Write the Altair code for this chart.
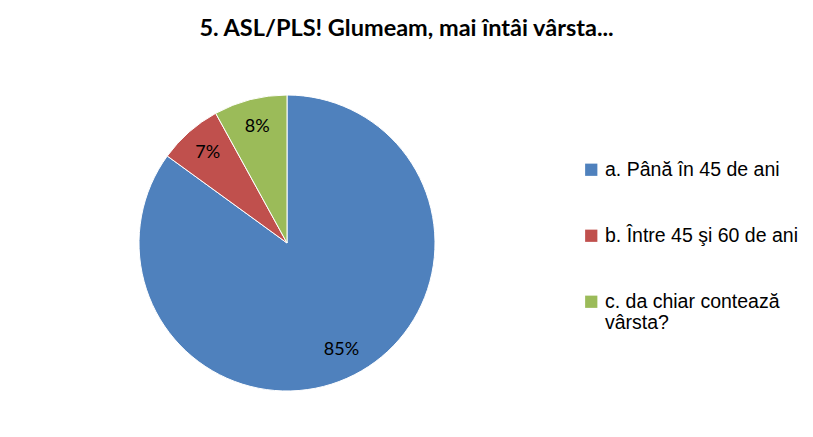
import json
import altair as alt
import pandas as pd

categories = ["a. Până în 45 de ani", "b. Între 45 şi 60 de ani", "c. da chiar contează vârsta?"]
values = [85, 7, 8]
colors = ["#4F81BD", "#C0504D", "#9BBB59"]
# how the long legend label is wrapped over two lines
wrapped = {"c. da chiar contează vârsta?": ["c. da chiar contează", "vârsta?"]}
title_text = "5. ASL/PLS! Glumeam, mai întâi vârsta..."

df = pd.DataFrame({
    "category": categories,
    "value": values,
    "idx": list(range(len(categories))),
})
df["label"] = df["value"].astype(str) + "%"

label_expr = "datum.label"
for k, v in wrapped.items():
    label_expr = f"datum.label == {json.dumps(k, ensure_ascii=False)} ? {json.dumps(v, ensure_ascii=False)} : ({label_expr})"

base = alt.Chart(df).encode(
    theta=alt.Theta("value:Q", stack=True),
    order=alt.Order("idx:Q", sort="ascending"),
    x=alt.value(279),
    y=alt.value(190),
)

pie = base.mark_arc(outerRadius=148, stroke="white", strokeWidth=1).encode(
    color=alt.Color(
        "category:N",
        scale=alt.Scale(domain=categories, range=colors),
        sort=categories,
        legend=alt.Legend(
            title=None,
            orient="none",
            legendX=573.5,
            legendY=107,
            symbolType="square",
            symbolSize=150,
            symbolStrokeWidth=0,
            labelFont="Liberation Sans",
            labelFontSize=19.5,
            labelColor="black",
            labelLimit=400,
            labelOffset=4,
            rowPadding=45,
            padding=0,
            labelExpr=label_expr,
        ),
    )
)

text = base.mark_text(radius=120, font="Lato", fontSize=18, color="black").encode(
    text="label:N"
)

chart = (pie + text).properties(
    width=797,
    height=376,
    padding={"left": 0, "top": 45, "right": 0, "bottom": 0},
    autosize="none",
    title=alt.Title(
        title_text,
        font="Lato",
        fontSize=23.5,
        fontWeight="bold",
        color="black",
        anchor="middle",
        baseline="alphabetic",
        offset=15,
        dy=21,
    ),
).configure_view(stroke=None)

chart.save("out.html", embed_options={"renderer": "svg", "actions": False})
